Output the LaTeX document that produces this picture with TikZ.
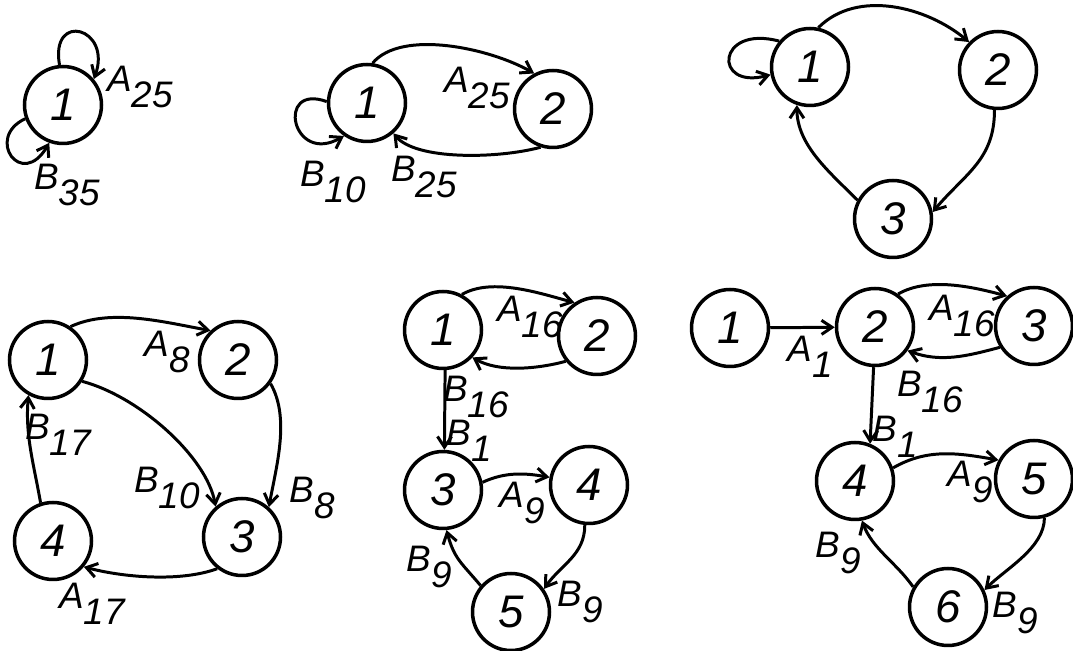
\documentclass[tikz,border=0pt]{standalone}
\usepackage{fontspec}
\setmainfont{Liberation Sans}
\usetikzlibrary{arrows.meta}
\newcommand{\edgelbl}[2]{#1\raisebox{-0.8ex}{#2}}

\begin{document}
\begin{tikzpicture}[x=0.02cm,y=0.02cm,
  state/.style={draw,circle,line width=2pt,minimum size=1.54cm,inner sep=0pt,
                font=\fontsize{26}{28}\selectfont\itshape},
  arr/.style={line width=1.7pt,-{Straight Barb[length=6pt,width=8pt]}},
  lbl/.style={inner sep=0pt,font=\fontsize{21}{24}\selectfont\itshape}]
  \path[use as bounding box] (0,0) rectangle (1073,-651);

  % One state, two self-loops
  \node[state] (a1) at (63,-105) {1};
  \draw[arr] (a1.95) .. controls +(100:55) and +(70:55) .. (a1.40);
  \draw[arr] (a1.200) .. controls +(205:45) and +(240:55) .. (a1.250);
  \node[lbl] (la25) at (140,-87) {\edgelbl{A}{25}};
  \node[lbl] (lb35) at (67,-185) {\edgelbl{B}{35}};

  % Two states
  \node[state] (b1) at (367,-103) {1};
  \node[state] (b2) at (553,-109) {2};
  \draw[arr] (b1.82) .. controls +(50:45) and +(150:50) .. (b2.118);
  \draw[arr] (b2.252) .. controls +(195:45) and +(310:35) .. (b1.311);
  \draw[arr] (b1.178) .. controls +(160:55) and +(210:60) .. (b1.235);
  \node[lbl] (lba25) at (477,-88) {\edgelbl{A}{25}};
  \node[lbl] (lbb25) at (424,-177) {\edgelbl{B}{25}};
  \node[lbl] (lbb10) at (333,-182) {\edgelbl{B}{10}};

  % Three states, no labels
  \node[state] (c1) at (810,-67) {1};
  \node[state] (c2) at (998,-70) {2};
  \node[state] (c3) at (893,-219) {3};
  \draw[arr] (c1.78) .. controls +(45:55) and +(140:55) .. (c2.136);
  \draw[arr] (c2.265) .. controls +(270:50) and +(50:50) .. (c3.10);
  \draw[arr] (c3.152) .. controls +(135:40) and +(270:40) .. (c1.251);
  \draw[arr] (c1.140) .. controls +(165:65) and +(195:60) .. (c1.191);

  % Four states
  \node[state] (d1) at (48,-360) {1};
  \node[state] (d2) at (238,-360) {2};
  \node[state] (d3) at (242,-537) {3};
  \node[state] (d4) at (53,-541) {4};
  \draw[arr] (d1.56) .. controls +(25:45) and +(170:45) .. (d2.133);
  \draw[arr] (d1.328) .. controls +(-15:60) and +(100:50) .. (d3.131);
  \draw[arr] (d2.324) .. controls +(-60:40) and +(80:40) .. (d3.48);
  \draw[arr] (d3.232) .. controls +(200:40) and +(345:40) .. (d4.320);
  \draw[arr] (d4.108) .. controls +(100:40) and +(265:40) .. (d1.241);
  \node[lbl] (lda8) at (167,-352) {\edgelbl{A}{8}};
  \node[lbl] (ldb10) at (167,-488) {\edgelbl{B}{10}};
  \node[lbl] (ldb8) at (312,-498) {\edgelbl{B}{8}};
  \node[lbl] (lda17) at (92,-604) {\edgelbl{A}{17}};
  \node[lbl] (ldb17) at (58,-435) {\edgelbl{B}{17}};

  % Five states
  \node[state] (e1) at (443,-330) {1};
  \node[state] (e2) at (597,-336) {2};
  \node[state] (e3) at (443,-490) {3};
  \node[state] (e4) at (589,-485) {4};
  \node[state] (e5) at (511,-612) {5};
  \draw[arr] (e1.62) .. controls +(30:35) and +(165:35) .. (e2.124);
  \draw[arr] (e2.219) .. controls +(195:30) and +(330:30) .. (e1.317);
  \draw[arr] (e1.273) -- (e3.88);
  \draw[arr] (e3.11) .. controls +(25:25) and +(170:25) .. (e4.169);
  \draw[arr] (e4.264) .. controls +(270:30) and +(55:30) .. (e5.35);
  \draw[arr] (e5.139) .. controls +(130:30) and +(285:30) .. (e3.275);
  \node[lbl] (lea16) at (530,-317) {\edgelbl{A}{16}};
  \node[lbl] (leb16) at (476,-397) {\edgelbl{B}{16}};
  \node[lbl] (leb1) at (469,-441) {\edgelbl{B}{1}};
  \node[lbl] (lea9) at (522,-503) {\edgelbl{A}{9}};
  \node[lbl] (leb9r) at (580,-602) {\edgelbl{B}{9}};
  \node[lbl] (leb9l) at (429,-567) {\edgelbl{B}{9}};

  % Six states
  \node[state] (f1) at (730,-328) {1};
  \node[state] (f2) at (875,-327) {2};
  \node[state] (f3) at (1034,-326) {3};
  \node[state] (f4) at (855,-481) {4};
  \node[state] (f5) at (1034,-479) {5};
  \node[state] (f6) at (948,-607) {6};
  \draw[arr] (f1) -- (f2);
  \draw[arr] (f2.55) .. controls +(30:35) and +(165:35) .. (f3.132);
  \draw[arr] (f3.212) .. controls +(195:35) and +(340:35) .. (f2.324);
  \draw[arr] (f2.268) -- (f4.68);
  \draw[arr] (f4.19) .. controls +(30:40) and +(170:40) .. (f5.152);
  \draw[arr] (f5.285) .. controls +(270:30) and +(45:30) .. (f6.25);
  \draw[arr] (f6.150) .. controls +(125:30) and +(290:30) .. (f4.280);
  \node[lbl] (lfa1) at (810,-357) {\edgelbl{A}{1}};
  \node[lbl] (lfa16) at (962,-316) {\edgelbl{A}{16}};
  \node[lbl] (lfb16) at (930,-392) {\edgelbl{B}{16}};
  \node[lbl] (lfb1) at (895,-437) {\edgelbl{B}{1}};
  \node[lbl] (lfa9) at (970,-482) {\edgelbl{A}{9}};
  \node[lbl] (lfb9r) at (1015,-613) {\edgelbl{B}{9}};
  \node[lbl] (lfb9l) at (838,-553) {\edgelbl{B}{9}};
\end{tikzpicture}
\end{document}
